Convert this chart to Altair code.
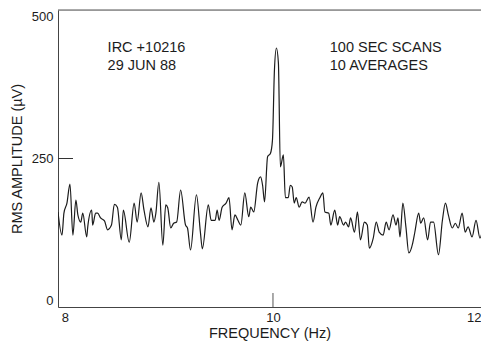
import altair as alt
import pandas as pd

# Spectrum trace (frequency in Hz, RMS amplitude in microvolts)
freq = [7.933, 7.971, 7.990, 8.019, 8.048, 8.076, 8.105, 8.124, 8.152, 8.171,
        8.209, 8.219, 8.257, 8.266, 8.295, 8.314, 8.342, 8.380, 8.409, 8.447,
        8.475, 8.504, 8.542, 8.561, 8.618, 8.665, 8.694, 8.732, 8.760, 8.798,
        8.827, 8.855, 8.874, 8.903, 8.941, 8.969, 8.988, 9.017, 9.045, 9.074,
        9.112, 9.159, 9.178, 9.207, 9.264, 9.302, 9.321, 9.378, 9.406, 9.444,
        9.463, 9.482, 9.511, 9.549, 9.577, 9.606, 9.634, 9.663, 9.691, 9.729,
        9.767, 9.786, 9.815, 9.853, 9.881, 9.900, 9.919, 9.948, 9.976, 9.995,
        10.014, 10.033, 10.052, 10.071, 10.100, 10.119, 10.147, 10.166, 10.185, 10.204,
        10.223, 10.252, 10.280, 10.309, 10.347, 10.385, 10.413, 10.451, 10.480, 10.499,
        10.537, 10.556, 10.594, 10.622, 10.641, 10.679, 10.698, 10.727, 10.746, 10.784,
        10.812, 10.841, 10.879, 10.907, 10.926, 10.964, 10.993, 11.021, 11.059, 11.088,
        11.116, 11.154, 11.183, 11.202, 11.221, 11.249, 11.278, 11.306, 11.344, 11.363,
        11.401, 11.420, 11.449, 11.487, 11.515, 11.544, 11.591, 11.629, 11.658, 11.686,
        11.724, 11.753, 11.781, 11.819, 11.848, 11.876, 11.914, 11.952, 11.990, 12.019]

amp = [160, 121, 158, 175, 207, 121, 180, 155, 143, 158,
       118, 135, 163, 138, 158, 158, 150, 145, 130, 138,
       173, 168, 113, 163, 109, 175, 143, 192, 163, 135,
       167, 143, 158, 210, 104, 172, 167, 133, 141, 143,
       197, 138, 133, 96, 189, 126, 98, 172, 146, 146,
       163, 146, 168, 175, 184, 130, 155, 146, 138, 192,
       152, 168, 160, 209, 219, 205, 177, 253, 259, 281,
       399, 436, 411, 236, 256, 184, 184, 205, 202, 175,
       184, 168, 177, 175, 185, 143, 168, 184, 192, 160,
       158, 138, 163, 138, 152, 138, 143, 135, 150, 126,
       160, 113, 143, 138, 99, 116, 143, 126, 121, 143,
       130, 155, 138, 150, 118, 175, 135, 91, 108, 125,
       158, 141, 150, 113, 143, 143, 88, 146, 175, 155,
       133, 141, 133, 158, 126, 135, 118, 146, 116, 133]

x_ticks = [8, 10, 12]
y_ticks = [0, 250, 500]

note_left = ["IRC +10216", "29 JUN 88"]
note_right = ["100 SEC SCANS", "10 AVERAGES"]
note_y = [429, 399]
note_left_x = 8.41
note_right_x = 10.546

FONT = "Liberation Sans"
INK = "#1c1c1c"
W, H = 423, 297

df = pd.DataFrame({"freq": freq, "amp": amp})

xscale = alt.Scale(domain=[7.933, 12.0], nice=False, zero=False)
yscale = alt.Scale(domain=[0, 500], nice=False)

line = alt.Chart(df).mark_line(color=INK, strokeWidth=1.2, clip=True,
                               interpolate="monotone").encode(
    x=alt.X("freq:Q", scale=xscale,
            axis=alt.Axis(values=x_ticks, format="d", title="FREQUENCY (Hz)", grid=False,
                          tickSize=0, labelPadding=4, labelFlush=1,
                          labelFontSize=13, titleFontSize=14.5, titlePadding=2,
                          domainColor="#444", labelColor=INK, titleColor=INK,
                          titleFontWeight="normal", labelFont=FONT, titleFont=FONT)),
    y=alt.Y("amp:Q", scale=yscale,
            axis=alt.Axis(values=y_ticks, format="d", title="RMS AMPLITUDE (\u00b5V)", grid=False,
                          tickSize=0, labelPadding=5, labelFlush=True, labelFlushOffset=0,
                          labelFontSize=13, titleFontSize=14.5, titlePadding=7,
                          domainColor="#444", labelColor=INK, titleColor=INK,
                          titleFontWeight="normal", labelFont=FONT, titleFont=FONT)),
)

top_border = alt.Chart(pd.DataFrame({"v": [500]})).mark_rule(color="#555", strokeWidth=1).encode(
    y=alt.Y("v:Q", scale=yscale), x=alt.value(0), x2=alt.value(W))

ytick = alt.Chart(pd.DataFrame({"v": [250]})).mark_rule(color="#333", strokeWidth=1).encode(
    y=alt.Y("v:Q", scale=yscale), x=alt.value(0), x2=alt.value(15))

xtick = alt.Chart(pd.DataFrame({"v": [10]})).mark_rule(color="#555", strokeWidth=1).encode(
    x=alt.X("v:Q", scale=xscale), y=alt.value(H), y2=alt.value(H - 14))

ndf_l = pd.DataFrame({"t": note_left, "y": note_y, "x": [note_left_x] * 2})
ndf_r = pd.DataFrame({"t": note_right, "y": note_y, "x": [note_right_x] * 2})

txt_l = alt.Chart(ndf_l).mark_text(align="left", baseline="alphabetic", font=FONT,
                                   fontSize=14.5, color=INK).encode(
    x=alt.X("x:Q", scale=xscale), y=alt.Y("y:Q", scale=yscale), text="t:N")
txt_r = alt.Chart(ndf_r).mark_text(align="left", baseline="alphabetic", font=FONT,
                                   fontSize=14.5, color=INK).encode(
    x=alt.X("x:Q", scale=xscale), y=alt.Y("y:Q", scale=yscale), text="t:N")

chart = alt.layer(line, top_border, ytick, xtick, txt_l, txt_r).properties(
    width=W, height=H,
    autosize=alt.AutoSizeParams(type="none"),
    padding={"left": 50, "top": 2, "right": 0, "bottom": 35},
).configure_view(stroke=None).configure(background="white")

chart.save("out.html", embed_options={"renderer": "svg", "actions": False})
